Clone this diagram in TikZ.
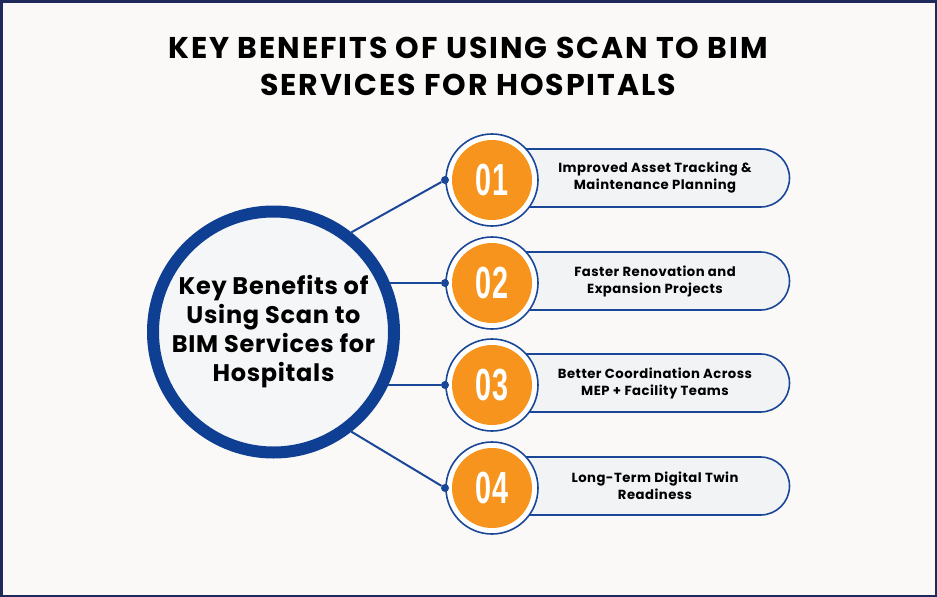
\documentclass[tikz,border=0pt]{standalone}
\usepackage{fontspec}
\setmainfont{Poppins}
\newfontfamily\numfont{Liberation Sans}
\usetikzlibrary{positioning, backgrounds}
\definecolor{framenavy}{HTML}{1F2A5C}
\definecolor{ringblue}{HTML}{0F3F93}
\definecolor{linkblue}{HTML}{1A4797}
\definecolor{badgeorange}{HTML}{F7941D}
\definecolor{pagebg}{HTML}{FAF9F8}
\definecolor{hubfill}{HTML}{F5F6F8}
\definecolor{pillfill}{HTML}{F2F3F5}
\tikzset{
  title/.style={
    align=center, text=black,
    font=\fontsize{30}{37}\selectfont\bfseries\addfontfeature{LetterSpace=6.5},
  },
  hub/.style={
    circle, draw=ringblue, line width=12pt, fill=hubfill,
    minimum size=241pt, inner sep=0pt, align=center,
    font=\fontsize{24}{29}\selectfont\bfseries\addfontfeature{LetterSpace=3},
  },
  pill/.style={
    rectangle, draw=linkblue, line width=1.6pt, fill=pillfill,
    rounded corners=29pt, minimum width=295pt, minimum height=58pt,
  },
  pilltext/.style={
    align=center,
    font=\fontsize{13.2}{17}\selectfont\bfseries\addfontfeature{LetterSpace=3.6},
  },
  ring/.style={
    circle, draw=linkblue, line width=1.6pt, fill=white,
    minimum size=92pt, inner sep=0pt,
  },
  num/.style={
    circle, fill=badgeorange, minimum size=80pt, inner sep=0pt,
    text=white, font=\fontsize{45}{45}\numfont\bfseries,
  },
  dot/.style={
    circle, fill=linkblue, minimum size=8pt, inner sep=0pt,
  },
  link/.style={
    line width=2pt, draw=linkblue,
  }
}

\begin{document}
\begin{tikzpicture}[x=1pt, y=-1pt]

  \useasboundingbox (0,0) rectangle (937,597);

  \node[title] (head) at (468,66)
    {KEY BENEFITS OF USING SCAN TO BIM\\SERVICES FOR HOSPITALS};

  \node[hub] (hub) at (273.5,332)
    {Key Benefits of\\Using Scan to\\BIM Services for\\Hospitals};

  % benefit rows
  \node[pill] (pill1) at (642,178) {};
  \node[pill] (pill2) at (642,281) {};
  \node[pill] (pill3) at (642,383) {};
  \node[pill] (pill4) at (642,486) {};

  \node[pilltext] (txt1) at (655,178) {Improved Asset Tracking \&\\Maintenance Planning};
  \node[pilltext] (txt2) at (655,281) {Faster Renovation and\\Expansion Projects};
  \node[pilltext] (txt3) at (655,383) {Better Coordination Across\\MEP + Facility Teams};
  \node[pilltext] (txt4) at (655,486) {Long-Term Digital Twin\\Readiness};

  \node[ring] (ring1) at (492,180) {};
  \node[ring] (ring2) at (492,283) {};
  \node[ring] (ring3) at (492,385) {};
  \node[ring] (ring4) at (492,488) {};

  \node[num] (num1) at (ring1) {\scalebox{0.64}[1]{01}};
  \node[num] (num2) at (ring2) {\scalebox{0.64}[1]{02}};
  \node[num] (num3) at (ring3) {\scalebox{0.64}[1]{03}};
  \node[num] (num4) at (ring4) {\scalebox{0.64}[1]{04}};

  \node[dot] (dot1) at (445,180) {};
  \node[dot] (dot2) at (445,283) {};
  \node[dot] (dot3) at (445,385) {};
  \node[dot] (dot4) at (445,488) {};

  \draw[link] (hub.52) -- (dot1);
  \draw[link] (hub.-52) -- (dot4);

  \begin{scope}[on background layer]
    \fill[pagebg] (0,0) rectangle (937,597);
    \draw[framenavy, line width=2.5pt] (1.25,1.25) rectangle (935.75,595.75);
    \draw[link] (hub.center |- dot2) -- (dot2);
    \draw[link] (hub.center |- dot3) -- (dot3);
  \end{scope}

\end{tikzpicture}
\end{document}
